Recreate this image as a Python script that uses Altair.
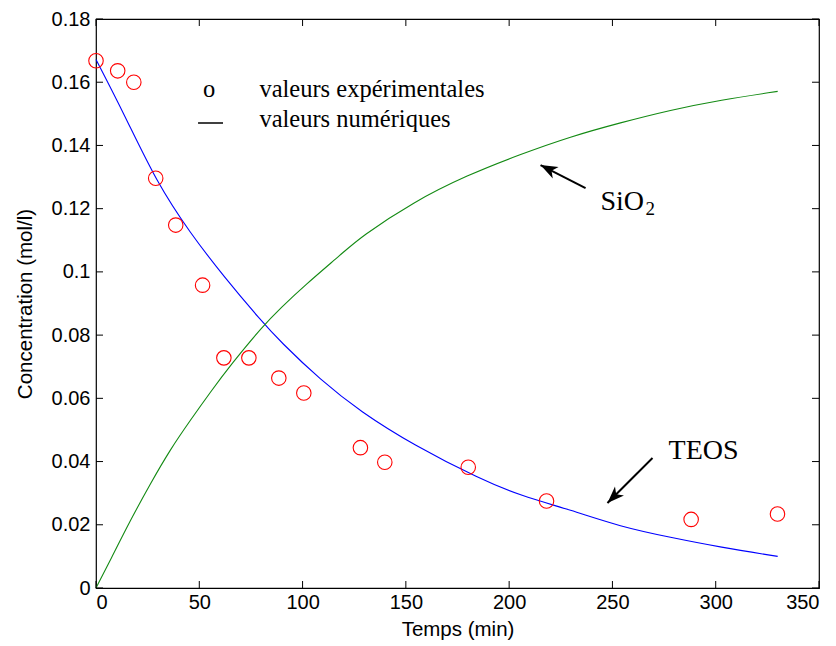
import altair as alt
import pandas as pd

# ---- data ----
t_exp = [0, 10.5, 18.3, 28.9, 38.6, 51.6, 61.9, 74.0, 88.5, 100.6, 128.0, 139.8, 180.2, 218.1, 288.1, 329.9]
c_exp = [0.1668, 0.1636, 0.1600, 0.1296, 0.1148, 0.0958, 0.0728, 0.0728, 0.0664, 0.0617,
         0.0444, 0.0398, 0.0382, 0.0275, 0.0217, 0.0234]

t_teos = [0, 13.5, 29.6, 45.7, 61.9, 79.6, 89.3, 108.7, 128.0, 153.8, 186.1, 205.5, 229.7,
          253.9, 278.1, 302.3, 330.0]
c_teos = [0.1672, 0.1501, 0.1280, 0.1122, 0.0985, 0.0848, 0.0779, 0.0658, 0.0558, 0.0452,
          0.0344, 0.0292, 0.0247, 0.0194, 0.0160, 0.0129, 0.0100]

t_sio2 = [0, 7.0, 16.7, 26.4, 36.1, 45.7, 55.4, 65.1, 81.2, 89.3, 100.6, 120.0, 128.0, 153.8,
          179.7, 205.5, 229.7, 253.9, 278.1, 302.3, 330.0]
c_sio2 = [0.0, 0.0089, 0.0215, 0.0331, 0.0440, 0.0531, 0.0620, 0.0705, 0.0832, 0.0885, 0.0955,
          0.1063, 0.1110, 0.1222, 0.1306, 0.1372, 0.1428, 0.1472, 0.1512, 0.1544, 0.1571]

x_ticks = [0, 50, 100, 150, 200, 250, 300, 350]
y_ticks = [0, 0.02, 0.04, 0.06, 0.08, 0.1, 0.12, 0.14, 0.16, 0.18]

legend_labels = ["valeurs expérimentales", "valeurs numériques"]

W, H = 723, 569
xs = alt.Scale(domain=[0, 350], nice=False, zero=False)
ys = alt.Scale(domain=[0, 0.18], nice=False)

exp_df = pd.DataFrame({"t": t_exp, "c": c_exp})
teos_df = pd.DataFrame({"t": t_teos, "c": c_teos})
sio2_df = pd.DataFrame({"t": t_sio2, "c": c_sio2})
xt_df = pd.DataFrame({"v": x_ticks})
yt_df = pd.DataFrame({"v": y_ticks})

SANS = "Liberation Sans"
SERIF = "Liberation Serif"

x_axis = alt.Axis(values=x_ticks, grid=False, domain=False, ticks=False,
                  labelFont=SANS, labelFontSize=20, labelColor="black", labelPadding=4,
                  title="Temps (min)", titleFont=SANS, titleFontSize=20.5,
                  titleFontWeight="normal", titleColor="black", titlePadding=7)
y_axis = alt.Axis(values=y_ticks, grid=False, domain=False, ticks=False,
                  labelFont=SANS, labelFontSize=20, labelColor="black", labelPadding=6,
                  labelExpr="format(datum.value, '~g')",
                  title="Concentration (mol/l)", titleFont=SANS, titleFontSize=20.5,
                  titleFontWeight="normal", titleColor="black", titlePadding=16)


def X(field):
    return alt.X(field, scale=xs, axis=x_axis, title="Temps (min)")


def Y(field):
    return alt.Y(field, scale=ys, axis=y_axis, title="Concentration (mol/l)")


teos_line = alt.Chart(teos_df).mark_line(color="#0000ff", strokeWidth=1.1, interpolate="basis").encode(
    x=X("t:Q"), y=Y("c:Q"))
sio2_line = alt.Chart(sio2_df).mark_line(color="#138a13", strokeWidth=1.1, interpolate="basis").encode(
    x=X("t:Q"), y=Y("c:Q"))
circles = alt.Chart(exp_df).mark_point(shape="circle", filled=False, color="#ff0000",
                                       size=210, strokeWidth=1.1, opacity=1).encode(
    x=X("t:Q"), y=Y("c:Q"))

TL = 7
xt_bot = alt.Chart(xt_df).mark_rule(color="black", strokeWidth=1).encode(
    x=X("v:Q"), y=alt.value(H), y2=alt.value(H - TL))
xt_top = alt.Chart(xt_df).mark_rule(color="black", strokeWidth=1).encode(
    x=X("v:Q"), y=alt.value(0), y2=alt.value(TL))
yt_left = alt.Chart(yt_df).mark_rule(color="black", strokeWidth=1).encode(
    y=Y("v:Q"), x=alt.value(0), x2=alt.value(TL))
yt_right = alt.Chart(yt_df).mark_rule(color="black", strokeWidth=1).encode(
    y=Y("v:Q"), x=alt.value(W), x2=alt.value(W - TL))

# legend
leg_text_df = pd.DataFrame({"x": [79.1, 79.1], "y": [0.1553, 0.1458], "label": legend_labels})
leg_text = alt.Chart(leg_text_df).mark_text(font=SERIF, fontSize=24.5, align="left",
                                            baseline="alphabetic", color="black").encode(
    x=X("x:Q"), y=Y("y:Q"), text="label:N")
leg_o = alt.Chart(pd.DataFrame({"x": [54.8], "y": [0.1553], "label": ["o"]})).mark_text(
    font=SERIF, fontSize=24.5, align="center", baseline="alphabetic", color="black").encode(
    x=X("x:Q"), y=Y("y:Q"), text="label:N")
leg_line = alt.Chart(pd.DataFrame({"x": [49.4], "x2": [61.5], "y": [0.1471]})).mark_rule(
    color="black", strokeWidth=1.5).encode(
    x=X("x:Q"), x2="x2:Q", y=Y("y:Q"))

# annotations
ann_df = pd.DataFrame({"x": [244.2, 277.2], "y": [0.1196, 0.0408], "label": ["SiO", "TEOS"]})
ann = alt.Chart(ann_df).mark_text(font=SERIF, fontSize=28, align="left",
                                  baseline="alphabetic", color="black").encode(
    x=X("x:Q"), y=Y("y:Q"), text="label:N")
sub = alt.Chart(pd.DataFrame({"x": [266.0], "y": [0.1180], "label": ["2"]})).mark_text(
    font=SERIF, fontSize=19, align="left", baseline="alphabetic", color="black").encode(
    x=X("x:Q"), y=Y("y:Q"), text="label:N")

arrows_df = pd.DataFrame({"x": [237.0, 269.4], "y": [0.1265, 0.0411],
                          "x2": [215.2, 247.6], "y2": [0.1338, 0.0269]})
shafts = alt.Chart(arrows_df).mark_rule(color="black", strokeWidth=2).encode(
    x=X("x:Q"), x2="x2:Q", y=Y("y:Q"), y2="y2:Q")
HEAD = "M0,0 L0.75,2 L0,1.45 L-0.75,2 Z"
head1 = alt.Chart(arrows_df.iloc[[0]]).mark_point(shape=HEAD, filled=True, color="black",
                                                  size=289, opacity=1, angle=297, strokeWidth=0).encode(
    x=X("x2:Q"), y=Y("y2:Q"))
head2 = alt.Chart(arrows_df.iloc[[1]]).mark_point(shape=HEAD, filled=True, color="black",
                                                  size=289, opacity=1, angle=225, strokeWidth=0).encode(
    x=X("x2:Q"), y=Y("y2:Q"))

chart = alt.layer(
    teos_line, sio2_line, circles, xt_bot, xt_top, yt_left, yt_right,
    leg_text, leg_o, leg_line, ann, sub, shafts, head1, head2,
).properties(
    width=W, height=H,
    autosize=alt.AutoSizeParams(type="none"),
    padding={"left": 88, "top": 11, "right": 9, "bottom": 56},
    background="white",
).configure_view(stroke="black", strokeWidth=1.2)

chart.save("out.html", embed_options={"renderer": "svg", "actions": False})
